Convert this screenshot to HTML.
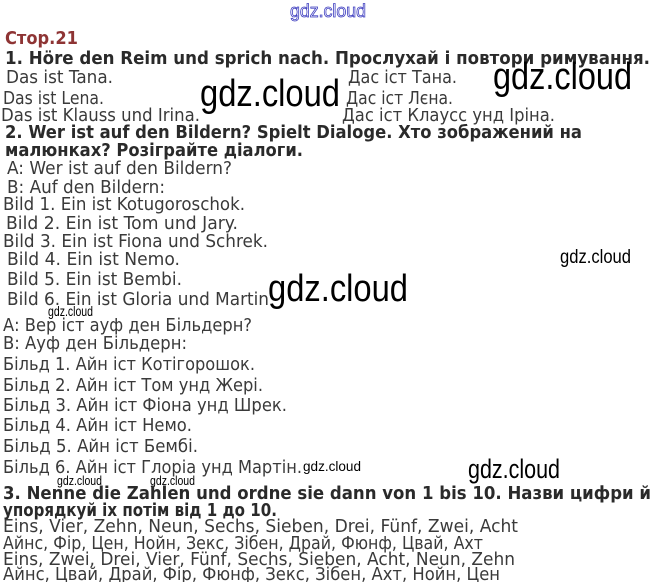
<!DOCTYPE html>
<html><head><meta charset="utf-8"><style>
html,body{margin:0;padding:0;background:#fff;width:656px;height:582px;overflow:hidden}
svg{display:block}
text{font-family:"DejaVu Sans","Liberation Sans",sans-serif;font-size:17.5px;fill:#3a3a3a}
.b{font-weight:bold;fill:#2a2a2a;font-size:17.5px}
.w{font-family:"Liberation Sans",sans-serif;fill:#000}
</style></head><body>
<svg width="656" height="582" viewBox="0 0 656 582">
<text x="290" y="17" class="w" style="font-size:18px;fill:#fff;stroke:#4040c0;stroke-width:0.8" textLength="76" lengthAdjust="spacingAndGlyphs">gdz.cloud</text>
<text x="5" y="44" class="b" style="fill:#8e3434" textLength="73" lengthAdjust="spacingAndGlyphs">Стор.21</text>
<text x="5" y="64" class="b" textLength="645" lengthAdjust="spacingAndGlyphs">1. Höre den Reim und sprich nach. Прослухай і повтори римування.</text>
<text x="6" y="83" textLength="107" lengthAdjust="spacingAndGlyphs">Das ist Tana.</text>
<text x="348" y="83" textLength="109" lengthAdjust="spacingAndGlyphs">Дас іст Тана.</text>
<text x="493" y="89" class="w" style="font-size:38px" textLength="139" lengthAdjust="spacingAndGlyphs">gdz.cloud</text>
<text x="3" y="104" textLength="101" lengthAdjust="spacingAndGlyphs">Das ist Lena.</text>
<text x="200" y="106" class="w" style="font-size:38px" textLength="140" lengthAdjust="spacingAndGlyphs">gdz.cloud</text>
<text x="346" y="104" textLength="107" lengthAdjust="spacingAndGlyphs">Дас іст Лєна.</text>
<text x="1" y="121" textLength="199" lengthAdjust="spacingAndGlyphs">Das ist Klauss und Irina.</text>
<text x="342" y="121" textLength="213" lengthAdjust="spacingAndGlyphs">Дас іст Клаусс унд Іріна.</text>
<text x="5" y="138" class="b" textLength="577" lengthAdjust="spacingAndGlyphs">2. Wer ist auf den Bildern? Spielt Dialoge. Хто зображений на</text>
<text x="5" y="156" class="b" textLength="298" lengthAdjust="spacingAndGlyphs">малюнках? Розіграйте діалоги.</text>
<text x="7" y="174" textLength="225" lengthAdjust="spacingAndGlyphs">A: Wer ist auf den Bildern?</text>
<text x="7" y="193" textLength="158" lengthAdjust="spacingAndGlyphs">B: Auf den Bildern:</text>
<text x="3" y="210" textLength="242" lengthAdjust="spacingAndGlyphs">Bild 1. Ein ist Kotugoroschok.</text>
<text x="6" y="229" textLength="232" lengthAdjust="spacingAndGlyphs">Bild 2. Ein ist Tom und Jary.</text>
<text x="3" y="247" textLength="265" lengthAdjust="spacingAndGlyphs">Bild 3. Ein ist Fiona und Schrek.</text>
<text x="7" y="265" textLength="173" lengthAdjust="spacingAndGlyphs">Bild 4. Ein ist Nemo.</text>
<text x="7" y="285" textLength="175" lengthAdjust="spacingAndGlyphs">Bild 5. Ein ist Bembi.</text>
<text x="7" y="305" textLength="262" lengthAdjust="spacingAndGlyphs">Bild 6. Ein ist Gloria und Martin</text>
<text x="560" y="263" class="w" style="font-size:19px" textLength="71" lengthAdjust="spacingAndGlyphs">gdz.cloud</text>
<text x="268" y="301" class="w" style="font-size:38px" textLength="140" lengthAdjust="spacingAndGlyphs">gdz.cloud</text>
<text x="48" y="316" class="w" style="font-size:14px" textLength="45" lengthAdjust="spacingAndGlyphs">gdz.cloud</text>
<text x="3" y="331" textLength="249" lengthAdjust="spacingAndGlyphs">А: Вер іст ауф ден Більдерн?</text>
<text x="3" y="349" textLength="184" lengthAdjust="spacingAndGlyphs">В: Ауф ден Більдерн:</text>
<text x="3" y="370" textLength="252" lengthAdjust="spacingAndGlyphs">Більд 1. Айн іст Котігорошок.</text>
<text x="3" y="391" textLength="260" lengthAdjust="spacingAndGlyphs">Більд 2. Айн іст Том унд Жері.</text>
<text x="3" y="411" textLength="284" lengthAdjust="spacingAndGlyphs">Більд 3. Айн іст Фіона унд Шрек.</text>
<text x="3" y="431" textLength="189" lengthAdjust="spacingAndGlyphs">Більд 4. Айн іст Немо.</text>
<text x="3" y="452" textLength="195" lengthAdjust="spacingAndGlyphs">Більд 5. Айн іст Бембі.</text>
<text x="3" y="473" textLength="299" lengthAdjust="spacingAndGlyphs">Більд 6. Айн іст Глоріа унд Мартін.</text>
<text x="303" y="471" class="w" style="font-size:14px" textLength="58" lengthAdjust="spacingAndGlyphs">gdz.cloud</text>
<text x="468" y="478" class="w" style="font-size:27px" textLength="92" lengthAdjust="spacingAndGlyphs">gdz.cloud</text>
<text x="57" y="485" class="w" style="font-size:13px" textLength="45" lengthAdjust="spacingAndGlyphs">gdz.cloud</text>
<text x="150" y="485" class="w" style="font-size:13px" textLength="45" lengthAdjust="spacingAndGlyphs">gdz.cloud</text>
<text x="3" y="499" class="b" textLength="648" lengthAdjust="spacingAndGlyphs">3. Nenne die Zahlen und ordne sie dann von 1 bis 10. Назви цифри й</text>
<text x="3" y="516" class="b" textLength="274" lengthAdjust="spacingAndGlyphs">упорядкуй іх потім від 1 до 10.</text>
<text x="3" y="532" textLength="515" lengthAdjust="spacingAndGlyphs">Eins, Vier, Zehn, Neun, Sechs, Sieben, Drei, Fünf, Zwei, Acht</text>
<text x="3" y="549" textLength="480" lengthAdjust="spacingAndGlyphs">Айнс, Фір, Цен, Нойн, Зекс, Зібен, Драй, Фюнф, Цвай, Ахт</text>
<text x="3" y="565" textLength="512" lengthAdjust="spacingAndGlyphs">Eins, Zwei, Drei, Vier, Fünf, Sechs, Sieben, Acht, Neun, Zehn</text>
<text x="3" y="580" textLength="497" lengthAdjust="spacingAndGlyphs">Айнс, Цвай, Драй, Фір, Фюнф, Зекс, Зібен, Ахт, Нойн, Цен</text>
</svg>
</body></html>
